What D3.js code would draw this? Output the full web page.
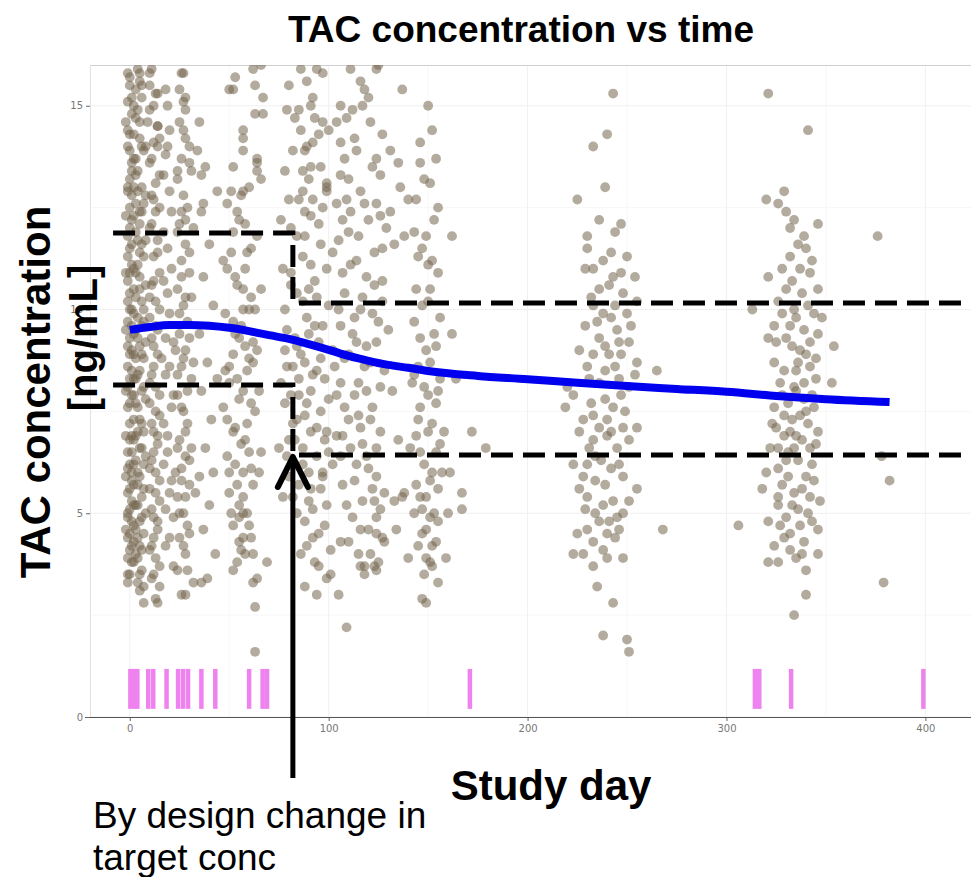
<!DOCTYPE html>
<html>
<head>
<meta charset="utf-8">
<script src="https://cdn.jsdelivr.net/npm/d3@7"></script>
<style>
  body { margin: 0; background: #ffffff; }
  svg { display: block; font-family: 'Liberation Sans', Arial, sans-serif; }
</style>
</head>
<body>
<div id="chart"></div>
<script>
// observed TAC concentrations [day, ng/mL], grouped by visit window
const visitWeek0 = [
  [-1,15.8],[0,15.5],[-1,15.1],[1,14.8],[0,14.3],[-1,14.0],[1,13.6],[0,13.2],[-1,12.9],[0,12.5],
  [1,12.2],[-1,11.8],[0,11.5],[1,11.1],[-1,10.7],[0,10.4],[1,10.0],[-1,9.7],[0,9.3],[1,9.0],
  [-1,8.6],[0,8.3],[1,7.9],[-1,7.6],[0,7.2],[1,6.9],[-1,6.5],[0,6.2],[1,5.8],[-1,5.5],
  [0,5.1],[1,4.8],[-1,4.4],[0,4.1],[1,3.8],[0,3.5],[-1,3.3],
  [4,15.9],[6,15.2],[3,14.7],[5,14.2],[7,13.9],[4,13.4],[6,13.0],[3,12.6],[5,12.1],[4,11.7],
  [7,11.3],[3,10.9],[5,10.5],[6,10.2],[4,9.8],[3,9.5],[5,9.1],[7,8.8],[4,8.4],[6,8.0],
  [3,7.7],[5,7.3],[4,7.0],[6,6.6],[3,6.3],[5,5.9],[7,5.6],[4,5.2],[6,4.9],[3,4.6],
  [5,4.2],[4,3.9],[6,3.6],[5,3.1],[7,2.8],
  [2,15.0],[2,13.0],[2,11.0],[2,9.9],[2,8.9],[2,7.9],[2,6.8],[2,5.7],[2,4.7],[1,12.8],
  [0,10.9],[-1,9.1],[0,7.7],[1,6.0],[-1,4.9],[3,8.3],[6,9.6],[5,11.4],[4,6.0],[7,7.0],
  [6,12.4],[3,13.7],[5,15.6],[7,10.0],[2,3.8],[-2,12.3],[-2,8.0],[-2,5.9],[-2,14.6],[8,9.2],
  [8,6.4],[8,12.8],[5,15.8],[6,15.5],[2,13.7],[7,3.2],[-1,3.5],
  [0,15.7],[1,15.2],[-1,14.4],[0,13.9],[1,13.4],[-1,13.0],[0,12.0],[1,11.6],[-1,11.3],[0,10.0],
  [1,9.6],[-1,10.2],[0,8.9],[1,8.5],[-1,8.1],[0,6.8],[1,6.5],[-1,6.1],[0,5.6],[1,5.3],
  [-1,5.0],[0,4.5],[1,4.2],[-1,3.9],
  [3,15.4],[4,14.9],[5,14.6],[6,14.0],[3,13.3],[4,12.9],[7,12.6],[5,12.4],[3,11.9],[6,11.6],
  [4,11.1],[5,10.8],[3,10.3],[7,9.7],[4,9.3],[6,8.9],[3,8.8],[5,8.5],[7,8.1],[4,7.6],
  [6,7.2],[3,6.9],[5,6.6],[7,6.2],[4,5.7],[6,5.4],[3,5.2],[5,4.8],[7,4.5],[4,4.4],
  [3,4.0],[6,4.1],[5,3.5],[4,3.3],
  [2,14.3],[2,12.3],[2,10.5],[2,9.4],[2,8.3],[2,7.3],[2,6.2],[2,5.2],[2,4.3],[-2,10.9],
  [-2,9.5],[-2,6.9],[-2,4.6],[8,10.6],[8,7.8],[8,5.0],[8,11.7],[8,14.0]
];
const visitWeek2to4 = [
  [11,15.9],[13,15.3],[10,14.9],[14,14.5],[12,14.1],[10,13.6],[15,13.3],[11,12.8],[13,12.4],[10,12.0],
  [14,11.7],[12,11.3],[15,10.9],[11,10.6],[13,10.2],[10,9.8],[14,9.5],[12,9.1],[16,8.8],[11,8.4],
  [13,8.1],[10,7.7],[15,7.4],[12,7.0],[14,6.7],[11,6.3],[13,6.0],[10,5.6],[15,5.3],[12,4.9],
  [14,4.6],[11,4.2],[13,3.9],[12,3.5],[15,3.2],[13,2.9],
  [19,15.0],[18,13.8],[20,12.9],[17,11.9],[21,11.0],[19,10.4],[18,9.3],[20,8.6],[22,7.9],[17,7.2],
  [19,6.5],[21,5.8],[18,5.1],[20,4.4],[22,3.7],
  [26,15.8],[27,15.1],[25,14.6],[28,14.2],[26,13.7],[24,13.2],[27,12.8],[29,12.5],[25,12.1],[28,11.6],
  [26,11.2],[30,10.9],[24,10.5],[27,10.1],[29,9.7],[25,9.4],[28,9.0],[26,8.6],[31,8.3],[24,7.9],
  [27,7.5],[29,7.2],[25,6.8],[28,6.4],[26,6.1],[30,5.7],[24,5.4],[27,5.0],[29,4.7],[25,4.4],
  [28,4.0],[26,3.0],[32,3.3],[31,10.3],[32,12.0],[30,14.0],[23,9.0],[23,6.0],[31,6.6],[32,8.7],
  [9,14.6],[14,14.5],[27,14.4],[15,14.2],[19,14.0],[24,13.4],[31,13.4],[12,12.7],[10,15.8],[27,15.8],
  [14,15.3],[28,15.2],[14,2.8],[28,3.0],
  [10,15.5],[12,15.0],[14,14.0],[11,13.7],[13,13.1],[15,12.5],[11,12.1],[14,11.4],[12,10.7],[10,10.3],
  [15,10.0],[13,9.6],[11,9.3],[14,8.9],[12,8.6],[10,8.2],[15,7.9],[13,7.5],[11,7.2],[14,6.9],
  [12,6.5],[10,6.1],[15,5.8],[13,5.5],[11,5.1],[14,4.8],[12,4.4],[10,4.1],[15,3.7],[11,3.4],
  [18,15.4],[20,14.4],[17,13.3],[21,12.4],[19,11.5],[17,10.7],[20,9.9],[22,9.2],[18,8.4],[21,7.6],
  [19,6.9],[17,6.2],[20,5.5],[22,4.9],[18,4.2],
  [25,15.4],[28,14.9],[30,13.6],[26,12.4],[28,12.2],[24,11.9],[30,11.4],[26,10.8],[28,10.3],[25,9.9],
  [30,9.3],[27,8.8],[24,8.4],[29,8.0],[26,7.6],[28,7.0],[24,6.6],[30,6.3],[26,5.8],[28,5.4],
  [25,5.0],[30,4.5],[27,4.2],[29,3.6],[24,3.6]
];
const visitWeek5to6 = [
  [35,14.6],[38,13.5],[36,12.4],[40,11.6],[37,10.8],[42,10.1],[35,9.4],[39,8.7],[36,8.0],[41,7.3],
  [38,6.6],[35,5.9],[40,5.2],[37,4.6],[43,4.0],[39,3.4],[44,12.9],[42,6.0],[44,8.3],[34,13.9],
  [36,13.3],[37,12.6],[36,3.3],[33,5.5]
];
const visitWeek8 = [
  [50,15.4],[53,15.7],[62,15.9],[63,14.8],[57,14.2],[52,13.5],[60,13.0],[49,12.6],[55,12.2],[64,11.8],
  [51,11.4],[58,11.0],[54,10.6],[61,10.3],[48,9.9],[56,9.6],[62,9.2],[52,8.9],[59,8.5],[50,8.2],
  [55,7.8],[63,7.5],[53,7.1],[58,6.8],[49,6.4],[61,6.1],[54,5.7],[57,5.4],[51,5.0],[60,4.7],
  [55,4.3],[58,4.0],[52,3.6],[62,3.3],[63,2.7],[63,1.6],[56,12.8],[53,9.4],[59,7.2],[50,6.0],
  [57,10.0],[65,8.0],[66,10.5],[66,6.5],[47,11.2],[47,7.6],[64,13.6],[55,4.9],[60,8.8],[52,11.9],
  [52,15.4],[63,15.5],[66,16.0],[67,15.2],[67,14.8],[57,14.4],[57,13.9],[64,13.7],[57,12.9],[64,13.4],
  [66,13.2],[57,5.0],[57,4.4],[62,4.0],[69,3.8],[64,3.4],
  [51,12.9],[54,12.4],[58,12.1],[61,11.5],[49,11.0],[53,10.8],[57,10.5],[60,10.0],[52,9.7],[55,9.3],
  [58,9.1],[62,8.7],[50,8.6],[54,8.3],[57,8.0],[61,7.7],[49,7.3],[52,7.0],[56,6.7],[60,6.5],
  [53,6.2],[57,6.0],[62,5.7],[50,5.5],[55,5.2],[59,5.0],[52,4.7],[61,4.4],[56,4.1],[54,3.8],
  [59,11.4],[63,10.0],[64,9.0],[48,8.5],[65,6.0]
];
const visitMonth3 = [
  [80,15.5],[86,15.9],[97,15.8],[92,15.2],[83,14.7],[95,14.3],[88,13.9],[78,13.4],[99,13.1],[85,12.7],
  [91,12.3],[81,12.0],[96,11.6],[87,11.3],[77,11.0],[93,10.7],[84,10.4],[100,10.1],[89,9.8],[79,9.5],
  [95,9.2],[86,8.9],[82,8.6],[98,8.3],[91,8.0],[78,7.7],[88,7.4],[94,7.1],[83,6.8],[100,6.5],
  [87,6.2],[80,5.9],[96,5.6],[90,5.3],[84,5.0],[98,4.7],[92,4.4],[86,4.0],[95,3.7],[101,3.5],
  [89,14.0],[97,12.5],[81,10.9],[93,9.6],[85,7.9],[99,7.0],[79,6.4],[91,5.6],[102,9.0],[102,11.4],
  [76,8.2],[76,12.2],[88,11.8],[94,8.5],[82,7.2],[97,6.0],[90,10.5],[84,9.1],[99,12.9],[87,13.4],
  [89,15.6],[94,15.9],[91,15.0],[97,14.6],[86,14.4],[92,14.1],[91,13.5],[99,13.0],[87,12.9],[92,12.7],
  [75,6.6],[88,3.2],[94,3.0],[99,3.4],
  [79,14.9],[85,14.9],[93,14.7],[100,14.4],[82,13.9],[90,13.2],[96,13.5],[80,12.7],[88,12.4],[95,12.1],
  [84,11.8],[91,11.1],[99,11.0],[81,10.6],[87,10.2],[94,10.3],[78,10.0],[90,9.4],[97,9.6],[83,9.3],
  [88,8.7],[96,8.8],[79,8.6],[85,8.3],[92,8.4],[100,7.8],[81,7.9],[89,7.7],[96,7.5],[84,7.3],
  [91,7.0],[98,6.8],[80,6.8],[87,6.6],[94,6.4],[83,6.2],[90,6.0],[97,5.9],[85,5.7],[92,5.1],
  [99,5.2],[82,5.4],[88,4.8],[95,4.5],[101,4.1],[89,4.2],[93,3.8],[78,9.0],[77,5.4],[102,6.2]
];
const visitMonth4 = [
  [111,15.9],[124,15.9],[118,15.4],[106,15.0],[121,14.6],[113,14.2],[108,13.7],[126,13.3],[116,12.9],[104,12.6],
  [120,12.2],[110,11.9],[127,11.5],[114,11.2],[107,10.9],[123,10.6],[117,10.3],[105,10.0],[125,9.7],[112,9.4],
  [119,9.1],[108,8.8],[128,8.5],[115,8.2],[104,7.9],[122,7.6],[110,7.3],[126,7.0],[117,6.7],[106,6.4],
  [120,6.1],[113,5.8],[128,5.5],[109,5.2],[124,4.9],[116,4.6],[106,4.3],[121,4.0],[118,3.5],[125,3.8],
  [109,2.2],[113,9.8],[119,8.0],[107,6.9],[124,5.9],[111,12.4],[127,10.2],[115,7.4],[105,11.7],[121,8.7],
  [129,12.0],[103,8.6],[116,15.6],[125,16.0],[117,15.0],[104,14.6],[109,14.7],[106,14.1],[124,13.7],[106,13.3],
  [109,12.7],[124,12.6],[105,3.0],[116,3.7],[123,3.7],[123,5.3],[133,5.3],[138,5.5],[124,4.5],[128,4.3],
  [134,4.6],[118,3.7],[124,3.6],[137,5.4],[137,15.4],[131,13.9],[135,13.6],[136,13.0],[133,11.6],[138,11.8],
  [131,12.4],[140,12.7],
  [112,14.9],[120,15.2],[127,14.3],[114,13.9],[122,13.5],[110,13.2],[118,12.6],[126,12.3],[107,12.2],[115,11.8],
  [123,11.4],[111,11.1],[119,10.8],[127,10.7],[108,10.4],[116,10.0],[122,9.9],[106,9.6],[114,9.2],[124,9.2],
  [110,8.9],[118,8.6],[126,8.1],[106,8.2],[113,7.9],[121,7.3],[108,7.6],[116,7.1],[124,6.6],[111,6.6],
  [119,6.4],[104,6.9],[114,6.2],[122,5.6],[107,5.7],[117,5.3],[126,5.1],[112,4.9],[120,4.6],[110,4.3],
  [115,4.0],[127,4.4],[130,9.5],[132,8.0],[135,6.8]
];
const visitMonth5 = [
  [150,15.0],[152,14.4],[146,14.1],[154,13.7],[148,13.2],[144,12.7],[153,12.2],[149,11.8],[145,11.3],[155,10.9],
  [151,10.5],[147,10.1],[143,9.7],[153,9.4],[149,9.0],[145,8.6],[156,8.3],[150,7.9],[146,7.6],[152,7.2],
  [144,6.9],[154,6.5],[148,6.2],[151,5.8],[146,5.4],[153,5.0],[149,4.6],[145,4.2],[151,3.8],[148,3.5],
  [147,2.9],[154,9.1],[142,8.2],[157,6.0],[150,11.1],[143,11.9],[155,8.0],[147,5.1],[158,7.0],[141,6.6],
  [140,3.9],[149,3.9],[152,4.2],[159,3.9],[152,3.7],[155,3.3],[149,2.8],[155,4.8],[162,11.8],
  [172,7.0],[179,6.6],[167,5.5],[167,5.1],[161,6.0],[160,5.0],[164,8.3],[162,9.4],
  [146,13.6],[151,13.1],[155,12.5],[147,11.5],[152,11.2],[144,10.5],[150,10.2],[156,9.8],[146,9.3],[151,8.7],
  [143,8.4],[148,8.1],[154,7.7],[145,7.3],[150,7.0],[156,6.7],[146,6.5],[152,6.0],[144,5.7],[149,5.4],
  [155,5.6],[151,4.9],[147,4.5],[154,4.3],[143,5.0]
];
const visitMonth8 = [
  [243,15.3],[240,14.3],[233,14.0],[239,13.0],[225,12.7],[247,12.1],[230,11.8],[230,11.5],[242,11.4],[229,11.0],
  [233,11.0],[243,10.8],[254,10.8],[247,10.9],[236,10.5],[248,10.4],[255,10.2],[238,9.9],[250,9.9],
  [233,8.9],[241,8.9],[247,8.9],[255,8.7],[239,8.5],[254,8.4],[223,7.9],[232,7.7],[239,7.8],[247,7.9],
  [233,7.4],[240,7.3],[248,7.1],[255,7.1],[233,6.8],[240,6.9],[245,6.6],[223,6.2],[230,6.2],[237,6.3],
  [228,5.9],[234,5.8],[248,5.9],[255,5.6],[230,5.4],[238,5.2],[243,5.3],[248,5.0],[229,5.1],[241,4.8],
  [240,4.5],[244,4.4],[228,4.0],[238,4.1],[248,3.9],[233,3.7],[243,2.8],[238,2.0],[250,1.9],[251,1.6],
  [223,4.0],[225,4.5],[229,9.6],[236,9.3],[245,9.5],[251,9.2],[226,9.0],[242,9.8],[219,7.6],[220,8.1],
  [268,4.6],[265,8.5],
  [236,12.2],[244,11.9],[238,11.2],[250,11.3],[232,10.3],[244,10.1],[235,9.7],[252,9.6],[230,8.6],[244,8.6],
  [236,8.2],[251,8.1],[228,7.3],[236,7.1],[243,7.6],[251,6.8],[234,6.4],[242,6.1],[226,5.6],[236,4.8],
  [246,4.6],[233,4.3],
  [241,10.6],[233,10.1],[246,9.2],[239,9.1],[231,8.3],[246,8.3],[242,7.0],[249,7.5],[231,6.6],[246,6.2],
  [239,5.7],[251,5.3],[234,5.0],[245,4.9],[230,4.6],[240,3.9],[235,3.2],[226,7.0]
];
const visitMonth11 = [
  [321,15.3],[341,14.4],[329,12.9],[320,12.7],[326,12.6],[334,12.2],[346,12.1],[332,12.0],[339,11.8],[340,11.5],
  [332,11.3],[337,11.0],[342,10.9],[321,10.8],[346,10.5],[326,10.2],[334,10.0],[313,10.0],[348,9.8],[324,9.6],
  [332,9.6],[339,9.5],[346,9.4],[354,9.1],[325,9.2],[333,9.1],[340,8.9],[345,8.8],[324,8.7],[329,8.5],
  [336,8.7],[342,8.6],[353,8.2],[334,8.1],[339,8.2],[324,7.6],[331,7.7],[344,7.6],[323,7.2],[325,7.1],
  [332,7.0],[341,7.2],[346,7.0],[338,6.8],[326,6.6],[334,6.6],[342,6.6],[320,6.0],[326,6.1],[331,5.9],
  [338,5.6],[344,5.8],[318,5.6],[326,5.4],[326,5.2],[334,5.5],[347,5.3],[330,4.9],[341,5.0],[321,4.8],
  [337,4.7],[346,4.6],[332,4.5],[324,4.2],[339,4.3],[332,4.1],[346,4.0],[321,3.8],[326,3.8],[340,3.6],
  [340,3.0],[334,2.5],[335,8.0],[337,7.4],[343,7.9],[329,6.9],[336,6.3],[343,6.2],[328,9.9],[338,10.4],
  [306,4.7],[376,11.8],[378,6.4],[382,5.8],[379,3.3],
  [330,12.4],[336,11.6],[328,11.0],[343,11.2],[330,10.5],[341,10.1],[335,9.8],[321,9.3],[337,9.0],[327,8.2],
  [345,8.3],[329,7.4],[339,7.8],[333,7.3],[322,6.6],[330,6.3],[340,5.9],[328,5.7],[336,5.1],[343,4.8],
  [329,4.4],[335,3.9],
  [333,10.7],[344,9.9],[330,9.3],[342,9.2],[335,8.5],[328,7.9],[340,7.5],[335,6.9],[345,6.7],[331,6.5],
  [342,5.4],[333,5.2],[327,4.7],[338,4.0]
];

// loess smooth
const smoothDay  = [0, 10, 20, 30, 40, 50, 60, 70, 80, 90, 100, 110, 120, 130, 140, 150, 175, 200, 225, 250, 275, 300, 325, 350, 382];
const smoothConc = [9.50, 9.57, 9.62, 9.62, 9.60, 9.55, 9.47, 9.37, 9.28, 9.15, 9.01, 8.86, 8.74, 8.64, 8.57, 8.49, 8.37, 8.29, 8.20, 8.12, 8.05, 7.98, 7.88, 7.80, 7.73];

// dosing days (rug)
const doseDays = [0.3, 2.2, 3.8, 9.3, 11.8, 18.5, 24.3, 26.8, 29.3, 36, 43, 60, 66.8, 69, 171, 314.3, 316.5, 332.5, 399];

// target windows drawn on top (upper / lower bound), change at day 82
const targetDays  = [-8.4, 82, 82, 440];
const targetUpper = [11.88, 11.88, 10.16, 10.16];
const targetLower = [8.15, 8.15, 6.43, 6.43];
const changeDay = 82;

const xTicks = [0, 100, 200, 300, 400];
const yTicks = [0, 5, 10, 15];
const xMinor = [50, 150, 250, 350];
const yMinor = [2.5, 7.5, 12.5];

const title = 'TAC concentration vs time';
const xTitle = 'Study day';
const yTitle = ['TAC concentration', '[ng/mL]'];
const note = ['By design change in', 'target conc'];


class TacChart {
  constructor(id_tag) {
    this.id_tag = id_tag;
    this.width = 971;
    this.height = 877;
    this.panel = { left: 90, top: 65, right: 991, bottom: 717 };
  }

  doChart() {
    const svg = d3.select(this.id_tag).append('svg')
      .attr('width', this.width)
      .attr('height', this.height);

    const x = d3.scaleLinear().domain([-20, 433]).range([this.panel.left, this.panel.right]);
    const y = d3.scaleLinear().domain([0, 16]).range([this.panel.bottom, this.panel.top]);

    svg.append('clipPath').attr('id', 'clip')
      .append('rect')
        .attr('x', this.panel.left).attr('y', this.panel.top)
        .attr('width', this.panel.right - this.panel.left)
        .attr('height', this.panel.bottom - this.panel.top);

    this.doGrid(svg, x, y);
    this.doDots(svg, x, y);
    this.doRug(svg, x, y);
    this.doSmooth(svg, x, y);
    this.doAxes(svg, x, y);
    this.doTargets(svg, x, y);
    this.doArrow(svg, x, y);
    this.doTexts(svg);
  }

  doGrid(svg, x, y) {
    const g = svg.append('g');
    // minor first, then major
    g.selectAll('.vminor').data(xMinor).enter().append('line')
      .attr('x1', d => x(d)).attr('x2', d => x(d))
      .attr('y1', this.panel.top).attr('y2', this.panel.bottom)
      .style('stroke', '#f7f7f7');
    g.selectAll('.hminor').data(yMinor).enter().append('line')
      .attr('x1', this.panel.left).attr('x2', this.panel.right)
      .attr('y1', d => y(d)).attr('y2', d => y(d))
      .style('stroke', '#f7f7f7');
    g.selectAll('.vmajor').data(xTicks).enter().append('line')
      .attr('x1', d => x(d)).attr('x2', d => x(d))
      .attr('y1', this.panel.top).attr('y2', this.panel.bottom)
      .style('stroke', '#f0f0f0');
    g.selectAll('.hmajor').data(yTicks).enter().append('line')
      .attr('x1', this.panel.left).attr('x2', this.panel.right)
      .attr('y1', d => y(d)).attr('y2', d => y(d))
      .style('stroke', '#f0f0f0');

    // panel border (top + left, light)
    g.append('line')
      .attr('x1', this.panel.left).attr('x2', this.panel.right)
      .attr('y1', this.panel.top + 0.5).attr('y2', this.panel.top + 0.5)
      .style('stroke', '#cfcfcf');
    g.append('line')
      .attr('x1', this.panel.left + 0.5).attr('x2', this.panel.left + 0.5)
      .attr('y1', this.panel.top).attr('y2', this.panel.bottom)
      .style('stroke', '#e2e2e2');
  }

  doDots(svg, x, y) {
    const allDots = [].concat(visitWeek0, visitWeek2to4, visitWeek5to6, visitWeek8,
      visitMonth3, visitMonth4, visitMonth5, visitMonth8, visitMonth11);
    svg.append('g')
      .attr('clip-path', 'url(#clip)')
      .selectAll('circle')
      .data(allDots)
      .enter()
      .append('circle')
        .attr('cx', d => x(d[0]))
        .attr('cy', d => y(d[1]))
        .attr('r', 4.9)
        .style('fill', '#74664f')
        .style('fill-opacity', 0.55);
  }

  doRug(svg, x, y) {
    svg.append('g')
      .selectAll('line')
      .data(doseDays)
      .enter()
      .append('line')
        .attr('x1', d => x(d)).attr('x2', d => x(d))
        .attr('y1', y(0.2)).attr('y2', y(1.18))
        .style('stroke', '#ee82ee')
        .style('stroke-width', 4.5);
  }

  doSmooth(svg, x, y) {
    const line = d3.line()
      .x((d, i) => x(smoothDay[i]))
      .y(d => y(d))
      .curve(d3.curveMonotoneX);
    svg.append('path')
      .datum(smoothConc)
      .attr('d', line)
      .style('fill', 'none')
      .style('stroke', '#0000ee')
      .style('stroke-width', 8)
      .style('stroke-linecap', 'butt');
  }

  doAxes(svg, x, y) {
    // x axis
    const xa = svg.append('g')
      .attr('transform', 'translate(0,' + this.panel.bottom + ')')
      .call(d3.axisBottom(x).tickValues(xTicks).tickSize(4).tickPadding(4));
    xa.select('.domain').remove();
    xa.append('line')
      .attr('x1', this.panel.left - 5).attr('x2', this.panel.right)
      .attr('y1', 0.5).attr('y2', 0.5)
      .style('stroke', '#555');
    xa.selectAll('.tick line').style('stroke', '#666');
    xa.selectAll('text')
      .style('font-size', '10px')
      .style('fill', '#777')
      .style('font-family', "'DejaVu Sans', sans-serif");

    // y axis
    const ya = svg.append('g')
      .attr('transform', 'translate(' + this.panel.left + ',0)')
      .call(d3.axisLeft(y).tickValues(yTicks).tickSize(4).tickPadding(3));
    ya.select('.domain').remove();
    ya.selectAll('.tick line').style('stroke', '#666');
    ya.selectAll('text')
      .style('font-size', '10px')
      .style('fill', '#777')
      .style('font-family', "'DejaVu Sans', sans-serif");
  }

  doTargets(svg, x, y) {
    const mk = vals => d3.line()
      .x((d, i) => x(targetDays[i]))
      .y(d => y(d))(vals);
    [targetUpper, targetLower].forEach(vals => {
      svg.append('path')
        .attr('d', mk(vals))
        .style('fill', 'none')
        .style('stroke', '#000')
        .style('stroke-width', 5)
        .style('stroke-dasharray', '22,10')
        .style('stroke-linejoin', 'miter');
    });
  }

  doArrow(svg, x, y) {
    const ax = x(changeDay);
    const tip = y(targetLower[2]);
    svg.append('line')
      .attr('x1', ax).attr('x2', ax)
      .attr('y1', 778).attr('y2', tip + 3)
      .style('stroke', '#000')
      .style('stroke-width', 5);
    svg.append('path')
      .attr('d', `M${ax - 15},${tip + 32} L${ax},${tip + 2} L${ax + 15},${tip + 32}`)
      .style('fill', 'none')
      .style('stroke', '#000')
      .style('stroke-width', 6)
      .style('stroke-linecap', 'round')
      .style('stroke-linejoin', 'round');
  }

  doTexts(svg) {
    svg.append('text')
      .attr('x', 521).attr('y', 42)
      .attr('text-anchor', 'middle')
      .style('font-size', '37px')
      .style('font-weight', 'bold')
      .text(title);

    svg.append('text')
      .attr('x', 551).attr('y', 800)
      .attr('text-anchor', 'middle')
      .style('font-size', '42px')
      .style('font-weight', 'bold')
      .text(xTitle);

    svg.append('text')
      .attr('transform', 'translate(50,392) rotate(-90)')
      .attr('text-anchor', 'middle')
      .style('font-size', '42px')
      .style('font-weight', 'bold')
      .text(yTitle[0]);
    svg.append('text')
      .attr('transform', 'translate(97,338) rotate(-90)')
      .attr('text-anchor', 'middle')
      .style('font-size', '40px')
      .style('font-weight', 'bold')
      .text(yTitle[1]);

    note.forEach((t, i) => {
      svg.append('text')
        .attr('x', 93).attr('y', 828 + i * 42)
        .style('font-size', '37px')
        .text(t);
    });
  }
}

new TacChart('#chart').doChart();
</script>
</body>
</html>
